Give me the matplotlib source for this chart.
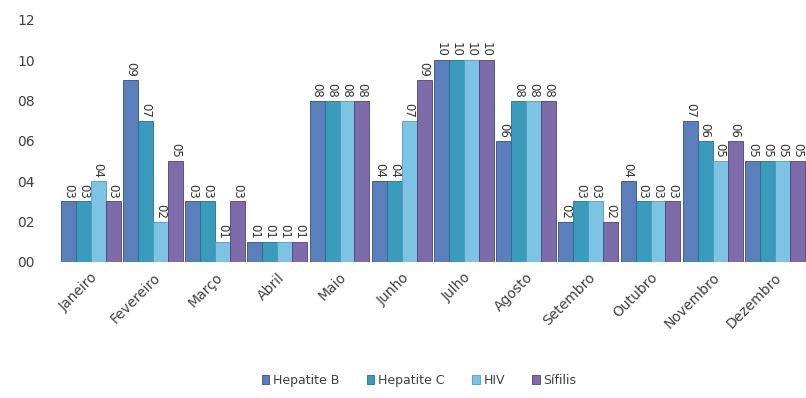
import numpy as np
import matplotlib
matplotlib.use("Agg")
import matplotlib.pyplot as plt

months = ["Janeiro", "Fevereiro", "Março", "Abril", "Maio", "Junho",
          "Julho", "Agosto", "Setembro", "Outubro", "Novembro", "Dezembro"]
hep_b = [3, 9, 3, 1, 8, 4, 10, 6, 2, 4, 7, 5]
hep_c = [3, 7, 3, 1, 8, 4, 10, 8, 3, 3, 6, 5]
hiv = [4, 2, 1, 1, 8, 7, 10, 8, 3, 3, 5, 5]
sifilis = [3, 5, 3, 1, 8, 9, 10, 8, 2, 3, 6, 5]

series = [("Hepatite B", hep_b, "#5a7fba", "#2f4f86"),
          ("Hepatite C", hep_c, "#3b9bbd", "#23708f"),
          ("HIV", hiv, "#7dc3e3", "#4f9cc0"),
          ("Sífilis", sifilis, "#7d6ca9", "#4e3f7c")]

fig = plt.figure(figsize=(8.06, 3.98), dpi=100)
ax = fig.add_axes([0.074, 0.342, 0.926, 0.608])

x = np.arange(len(months))
w = 0.24
for i, (name, vals, col, edge) in enumerate(series):
    pos = x + (i - 1.5) * w
    ax.bar(pos, vals, w, color=col, edgecolor=edge, linewidth=0.6, label=name)
    for p, v in zip(pos, vals):
        ax.text(p, v + 0.15, f"{v:02d}", rotation=270, ha="center", va="bottom",
                fontsize=8.5, color="#333333")

ax.set_xlim(-0.5, 11.5)
ax.set_ylim(0, 12)
ax.set_yticks(range(0, 13, 2))
ax.set_yticklabels([f"{t:02d}" for t in range(0, 13, 2)], fontsize=10, color="#404040")
ax.set_xticks(x)
ax.set_xticklabels(months, rotation=45, ha="right", rotation_mode="anchor",
                   fontsize=10, color="#404040")
ax.tick_params(length=0, pad=18)
ax.tick_params(axis="x", pad=6)
for s in ax.spines.values():
    s.set_visible(False)

fig.legend(loc="lower center", bbox_to_anchor=(0.52, 0.0), ncol=4, frameon=False,
           fontsize=9, handlelength=0.6, handleheight=0.7, columnspacing=2.2,
           handletextpad=0.3, labelcolor="#404040")

fig.savefig("out.png", dpi=100)
